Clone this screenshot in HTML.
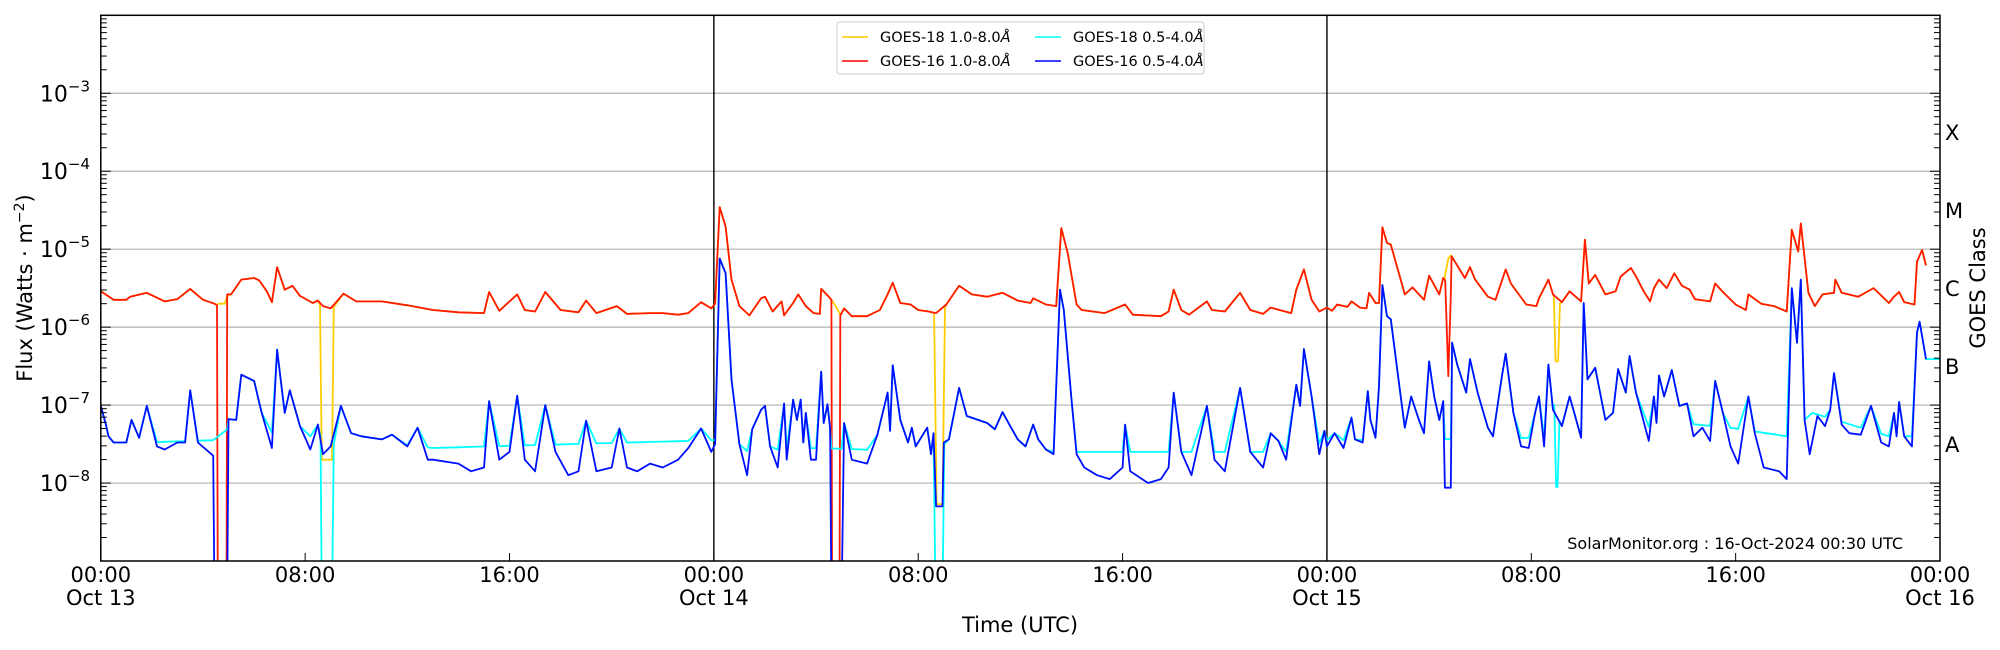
<!DOCTYPE html>
<html><head><meta charset="utf-8"><style>
html,body{margin:0;padding:0;background:#fff;}
svg{display:block;font-family:"DejaVu Sans","Liberation Sans",sans-serif;}
</style></head><body>
<svg id="chart" width="2000" height="650" viewBox="0 0 2000 650" xmlns="http://www.w3.org/2000/svg">
<defs><clipPath id="plotclip"><rect x="100.8" y="15.3" width="1839.2" height="545.7"/></clipPath></defs>
<rect width="2000" height="650" fill="#fff"/>
<g id="grid"></g>
<g id="series" clip-path="url(#plotclip)"></g>
<g id="axes"></g>
<g>
<rect x="837" y="22" width="367" height="52" rx="3" fill="#fff" fill-opacity="0.85" stroke="#ccc" stroke-width="1"/>
<g><line x1="842" y1="37" x2="868" y2="37" stroke="#ffcc00" stroke-width="1.6"/><text x="880" y="42" font-size="14.5">GOES-18 1.0-8.0<tspan font-style="italic">Å</tspan></text></g>
<g><line x1="842" y1="61" x2="868" y2="61" stroke="#ff0000" stroke-width="1.6"/><text x="880" y="66" font-size="14.5">GOES-16 1.0-8.0<tspan font-style="italic">Å</tspan></text></g>
<g><line x1="1035" y1="37" x2="1061" y2="37" stroke="#00ffff" stroke-width="1.6"/><text x="1073" y="42" font-size="14.5">GOES-18 0.5-4.0<tspan font-style="italic">Å</tspan></text></g>
<g><line x1="1035" y1="61" x2="1061" y2="61" stroke="#0000ff" stroke-width="1.6"/><text x="1073" y="66" font-size="14.5">GOES-16 0.5-4.0<tspan font-style="italic">Å</tspan></text></g>
</g>
<text x="1903" y="549" font-size="16" text-anchor="end">SolarMonitor.org : 16-Oct-2024 00:30 UTC</text>
<text x="1020" y="632" font-size="21" text-anchor="middle">Time (UTC)</text>
<text transform="translate(32,288) rotate(-90)" font-size="21" text-anchor="middle">Flux (Watts · m<tspan dy="-8" font-size="14">−2</tspan><tspan dy="8">)</tspan></text>
<text transform="translate(1985,288) rotate(-90)" font-size="21" text-anchor="middle">GOES Class</text>
</svg>
<script>
// GOES-16 1.0-8.0 A (log10 W/m^2), hours since Oct 13 00:00
const g16LongT=[0,0.5,1,1.15,1.8,2.5,3,3.5,4,4.45,4.55,4.58,4.92,4.95,5.1,5.5,6,6.2,6.5,6.7,6.9,7.2,7.5,7.8,8.3,8.5,8.7,9,9.5,10,11,12,13,14,15,15.2,15.6,16.3,16.6,17,17.4,18,18.7,19,19.4,20.2,20.6,21.5,22,22.6,23,23.5,23.9,24.05,24.23,24.46,24.69,25,25.39,25.85,26,26.3,26.65,26.75,27.1,27.3,27.6,27.9,28.15,28.2,28.5,28.6,28.63,28.92,28.95,29.1,29.4,30,30.5,30.8,31,31.3,31.7,32,32.4,32.7,33.1,33.6,34.1,34.7,35.3,35.9,36.4,36.5,37,37.4,37.6,37.85,38.2,38.4,39.3,40.1,40.4,41.5,41.8,42,42.3,42.6,43.3,43.5,44,44.6,45,45.5,45.8,46.6,46.8,47.1,47.4,47.7,48,48.2,48.4,48.8,48.96,49.3,49.55,49.65,49.9,50.04,50.17,50.35,50.5,51.05,51.35,51.8,52,52.4,52.55,52.63,52.75,52.85,52.88,53.1,53.4,53.6,53.8,54.3,54.6,55,55.2,55.8,56.2,56.3,56.67,56.85,57.2,57.5,57.95,58.1,58.25,58.5,58.9,59.3,59.5,59.9,60.1,60.4,60.65,60.8,61,61.3,61.6,61.9,62.2,62.4,63,63.2,63.5,64,64.4,64.5,65,65.5,66,66.2,66.45,66.55,66.85,67.1,67.4,67.85,67.9,68.15,68.8,69.4,70,70.2,70.4,70.6,71,71.1,71.3,71.45];
const g16LongV=[-5.54,-5.65,-5.65,-5.61,-5.56,-5.67,-5.64,-5.51,-5.65,-5.70,-5.72,-9.5,-9.5,-5.58,-5.58,-5.39,-5.37,-5.40,-5.54,-5.68,-5.23,-5.52,-5.47,-5.60,-5.69,-5.66,-5.73,-5.76,-5.57,-5.67,-5.67,-5.72,-5.78,-5.81,-5.82,-5.55,-5.79,-5.58,-5.78,-5.80,-5.55,-5.78,-5.81,-5.66,-5.82,-5.73,-5.83,-5.82,-5.82,-5.84,-5.82,-5.68,-5.76,-5.70,-4.46,-4.71,-5.39,-5.73,-5.85,-5.63,-5.61,-5.80,-5.67,-5.85,-5.69,-5.58,-5.73,-5.82,-5.83,-5.51,-5.61,-5.65,-9.5,-9.5,-5.85,-5.76,-5.86,-5.86,-5.78,-5.58,-5.43,-5.69,-5.71,-5.78,-5.80,-5.82,-5.71,-5.47,-5.58,-5.61,-5.56,-5.66,-5.69,-5.63,-5.71,-5.73,-4.73,-5.05,-5.71,-5.78,-5.82,-5.71,-5.84,-5.86,-5.80,-5.52,-5.78,-5.84,-5.67,-5.78,-5.80,-5.56,-5.78,-5.83,-5.75,-5.82,-5.52,-5.26,-5.65,-5.80,-5.75,-5.79,-5.71,-5.74,-5.67,-5.75,-5.76,-5.56,-5.69,-5.69,-4.72,-4.92,-4.94,-5.58,-5.49,-5.65,-5.34,-5.58,-5.37,-5.40,-6.63,-5.60,-5.09,-5.21,-5.37,-5.23,-5.39,-5.61,-5.65,-5.26,-5.44,-5.71,-5.73,-5.63,-5.39,-5.58,-5.68,-5.54,-5.67,-4.88,-5.44,-5.33,-5.58,-5.54,-5.35,-5.24,-5.35,-5.54,-5.67,-5.50,-5.39,-5.50,-5.31,-5.47,-5.52,-5.64,-5.67,-5.44,-5.55,-5.71,-5.78,-5.58,-5.70,-5.73,-5.80,-4.75,-5.03,-4.67,-5.56,-5.73,-5.58,-5.56,-5.39,-5.56,-5.61,-5.50,-5.69,-5.61,-5.55,-5.68,-5.71,-5.16,-5.01,-5.21];
// GOES-18 1.0-8.0 A: segments where it differs from GOES-16
const g18LongPatchT=[[4.55,4.6,4.85,4.95],[8.58,8.65,9.05,9.12],[28.6,28.75,28.92,28.95],[32.62,32.72,32.95,33.05],[52.6,52.75,52.86],[56.88,56.95,57.05,57.12]];
const g18LongPatchV=[[-5.72,-5.70,-5.70,-5.60],[-5.72,-7.7,-7.7,-5.74],[-5.65,-5.72,-5.82,-5.85],[-5.82,-8.27,-8.27,-5.75],[-5.38,-5.12,-5.08],[-5.60,-6.44,-6.44,-5.70]];
// GOES-16 0.5-4.0 A
const g16ShortT=[0,0.2,0.3,0.5,1,1.2,1.5,1.8,2.2,2.5,3,3.3,3.5,3.8,4.3,4.4,4.45,4.95,5,5.3,5.5,6,6.3,6.7,6.9,7.2,7.4,7.8,8.2,8.5,8.7,9,9.4,9.8,10.2,11,11.4,12,12.4,12.8,13,14,14.5,15,15.2,15.6,16,16.3,16.6,17,17.4,17.8,18.3,18.7,19,19.4,20,20.3,20.6,21,21.5,22,22.6,23,23.5,23.9,24.05,24.23,24.46,24.69,25,25.3,25.5,25.85,26,26.2,26.5,26.75,26.85,27.1,27.25,27.4,27.5,27.6,27.8,28,28.2,28.3,28.45,28.55,28.6,29,29.1,29.4,30,30.4,30.8,30.9,31,31.3,31.6,31.75,31.9,32.35,32.5,32.6,32.7,32.95,33,33.2,33.6,33.9,34.7,35,35.3,35.6,35.9,36.2,36.5,36.7,37,37.3,37.55,37.7,38,38.2,38.5,39,39.5,40,40.1,40.3,41,41.5,41.8,42,42.3,42.7,43.3,43.6,44,44.6,45,45.5,45.8,46.1,46.4,46.8,46.95,47.1,47.4,47.7,47.9,48,48.3,48.65,48.96,49.1,49.4,49.6,49.7,49.9,50.04,50.17,50.35,50.5,50.8,51.05,51.3,51.6,51.8,52,52.2,52.4,52.55,52.62,52.85,52.9,53.1,53.45,53.6,53.9,54.3,54.5,54.85,55,55.3,55.6,55.9,56.15,56.3,56.5,56.67,56.85,57.2,57.5,57.65,57.95,58.05,58.2,58.5,58.9,59.2,59.4,59.7,59.85,60.1,60.6,60.8,60.9,61,61.2,61.5,61.8,62.1,62.35,62.7,63,63.2,63.5,63.8,64.1,64.5,64.75,65.1,65.7,66,66.2,66.4,66.55,66.7,66.9,67.2,67.5,67.7,67.85,68.15,68.45,68.9,69.3,69.7,70,70.2,70.3,70.4,70.6,70.9,71.1,71.2,71.45];
const g16ShortV=[-7.01,-7.25,-7.40,-7.48,-7.48,-7.19,-7.42,-7.01,-7.53,-7.57,-7.48,-7.48,-6.81,-7.48,-7.62,-7.65,-9.5,-9.5,-7.18,-7.19,-6.61,-6.69,-7.10,-7.55,-6.29,-7.10,-6.81,-7.27,-7.57,-7.25,-7.63,-7.53,-7.01,-7.36,-7.40,-7.44,-7.38,-7.53,-7.29,-7.70,-7.7,-7.75,-7.85,-7.8,-6.95,-7.7,-7.6,-6.88,-7.7,-7.85,-7.0,-7.6,-7.9,-7.85,-7.2,-7.85,-7.8,-7.3,-7.8,-7.85,-7.75,-7.8,-7.7,-7.55,-7.3,-7.6,-7.5,-5.12,-5.31,-6.67,-7.5,-7.9,-7.31,-7.06,-7.01,-7.53,-7.8,-6.98,-7.7,-6.93,-7.19,-6.93,-7.48,-7.10,-7.7,-7.7,-6.57,-7.23,-6.99,-7.3,-9.5,-9.5,-7.23,-7.7,-7.75,-7.38,-6.84,-7.33,-6.49,-7.19,-7.48,-7.29,-7.53,-7.29,-7.63,-7.36,-8.3,-8.3,-7.48,-7.44,-6.78,-7.14,-7.23,-7.31,-7.09,-7.27,-7.44,-7.53,-7.25,-7.44,-7.57,-7.63,-5.52,-5.78,-6.93,-7.63,-7.8,-7.9,-7.95,-7.8,-7.25,-7.85,-8.0,-7.95,-7.8,-6.84,-7.6,-7.9,-7.01,-7.7,-7.85,-6.78,-7.6,-7.8,-7.36,-7.46,-7.7,-6.74,-7.01,-6.28,-6.89,-7.63,-7.33,-7.53,-7.36,-7.55,-7.16,-7.44,-7.48,-6.82,-7.19,-7.42,-6.76,-5.46,-5.86,-5.90,-6.67,-7.29,-6.89,-7.19,-7.36,-6.44,-6.89,-7.19,-6.95,-8.06,-8.06,-6.20,-6.48,-6.84,-6.41,-6.84,-7.29,-7.40,-6.63,-6.34,-7.10,-7.53,-7.55,-7.10,-6.89,-7.53,-6.48,-7.06,-7.27,-6.89,-7.06,-7.42,-5.69,-6.67,-6.52,-7.19,-7.10,-6.54,-6.84,-6.37,-6.84,-7.46,-6.89,-7.23,-6.62,-6.89,-6.55,-7.01,-6.98,-7.40,-7.29,-7.46,-6.69,-7.10,-7.53,-7.75,-6.89,-7.36,-7.8,-7.85,-7.95,-5.50,-6.20,-5.39,-7.19,-7.63,-7.14,-7.27,-7.06,-6.59,-7.25,-7.36,-7.38,-7.01,-7.48,-7.53,-7.10,-7.40,-6.96,-7.40,-7.53,-6.07,-5.93,-6.41];
// GOES-18 0.5-4.0 A: background floor (sits above GOES-16 at quiet times) and dropouts
const g18ShortFloorT=[0,4.4,5,13,24,24.7,28,32.6,38,47,48,50,60,61,64,66,67,70,72];
const g18ShortFloorV=[-7.5,-7.45,-7.3,-7.55,-7.45,-7.6,-7.55,-7.6,-7.6,-7.6,-7.45,-7.45,-7.4,-7.2,-7.3,-7.4,-7.1,-7.4,-7.4];
const g18ShortPatchT=[[8.6,8.65,9.05,9.12],[32.6,32.68,32.95,33.02],[56.9,56.97,57.03,57.1]];
const g18ShortPatchV=[[-7.4,-9.5,-9.5,-7.5],[-7.4,-9.5,-9.5,-7.5],[-7.0,-8.05,-8.05,-7.2]];
const xTickHours=[0,8,16,24,32,40,48,56,64,72];
const xTickLabels=["00:00","08:00","16:00","00:00","08:00","16:00","00:00","08:00","16:00","00:00"];
const xTickDays=["Oct 13","","","Oct 14","","","Oct 15","","","Oct 16"];
const yDecades=[-8,-7,-6,-5,-4,-3];
const classLetters=["A","B","C","M","X"];
const classLogs=[-7.5,-6.5,-5.5,-4.5,-3.5];

const NS="http://www.w3.org/2000/svg";
const L=100.8,R=1940,T=15.3,B=561,HMAX=72,YMIN=-9,YMAX=-2;
const xs=h=>L+h/HMAX*(R-L);
const ys=v=>B-(v-YMIN)/(YMAX-YMIN)*(B-T);
function mk(tag,attrs,parent){const e=document.createElementNS(NS,tag);for(const k in attrs)e.setAttribute(k,attrs[k]);parent.appendChild(e);return e;}
function interp(T,V,t){if(t<=T[0])return V[0];for(let i=1;i<T.length;i++){if(t<=T[i]){const f=(t-T[i-1])/(T[i]-T[i-1]);return V[i-1]+f*(V[i]-V[i-1]);}}return V[V.length-1];}
function applyPatches(T,V,PT,PV){let pts=[];for(let i=0;i<T.length;i++){let inside=false;for(const p of PT){if(T[i]>=p[0]&&T[i]<=p[p.length-1])inside=true;}if(!inside)pts.push([T[i],V[i]]);}PT.forEach((p,j)=>p.forEach((t,k)=>pts.push([t,PV[j][k]])));pts.sort((a,b)=>a[0]-b[0]);return pts;}
function pathD(pts){return pts.map((p,i)=>(i?"L":"M")+xs(p[0]).toFixed(1)+","+ys(p[1]).toFixed(1)).join("");}

const grid=document.getElementById("grid");
yDecades.forEach(d=>{const l=mk("line",{x1:L,x2:R,y1:ys(d),y2:ys(d),stroke:"#b0b0b0","stroke-width":1.2},grid);

});
[24,48].forEach(h=>{const l=mk("line",{x1:xs(h),x2:xs(h),y1:T,y2:B,stroke:"#000","stroke-width":1.4},grid);

});

const sg=document.getElementById("series");
const yellowPts=applyPatches(g16LongT,g16LongV,g18LongPatchT,g18LongPatchV);
const redPts=g16LongT.map((t,i)=>[t,g16LongV[i]]);
let cyT=Array.from(new Set(g16ShortT.concat(g18ShortFloorT))).sort((a,b)=>a-b);
let cyV=cyT.map(t=>Math.max(interp(g16ShortT,g16ShortV,t),interp(g18ShortFloorT,g18ShortFloorV,t)));
const cyanPts=applyPatches(cyT,cyV,g18ShortPatchT,g18ShortPatchV);
const bluePts=g16ShortT.map((t,i)=>[t,g16ShortV[i]]);
const p1=mk("path",{d:pathD(yellowPts),fill:"none",stroke:"#ffcc00","stroke-width":1.8,"stroke-linejoin":"round"},sg);


const p2=mk("path",{d:pathD(redPts),fill:"none",stroke:"#ff1a00","stroke-width":1.8,"stroke-linejoin":"round"},sg);


const p3=mk("path",{d:pathD(cyanPts),fill:"none",stroke:"#00ffff","stroke-width":1.8,"stroke-linejoin":"round"},sg);


const p4=mk("path",{d:pathD(bluePts),fill:"none",stroke:"#0010ff","stroke-width":1.8,"stroke-linejoin":"round"},sg);



const ax=document.getElementById("axes");
const frame=mk("rect",{x:L,y:T,width:R-L,height:B-T,fill:"none",stroke:"#000","stroke-width":1.5},ax);


for(let d=YMIN;d<YMAX;d++){for(let m=1;m<=9;m++){const v=d+Math.log10(m);const y=ys(v);const len=m===1?10:6;
if(m===1&&d===YMIN)continue;
mk("line",{x1:L,x2:L+len,y1:y,y2:y,stroke:"#000","stroke-width":1},ax);
mk("line",{x1:R,x2:R-len,y1:y,y2:y,stroke:"#000","stroke-width":1},ax);}}
yDecades.forEach(d=>{const t=mk("text",{x:90,y:ys(d)+8,"font-size":22,"text-anchor":"end"},ax);


t.innerHTML='10<tspan dy="-10" font-size="15">−'+(-d)+'</tspan>';});
classLetters.forEach((c,i)=>{const t=mk("text",{x:1945,y:ys(classLogs[i])+8,"font-size":21},ax);


t.textContent=c;});
xTickHours.forEach((h,i)=>{const x=xs(h);mk("line",{x1:x,x2:x,y1:B,y2:B-8,stroke:"#000","stroke-width":1},ax);
const t=mk("text",{x:x,y:582,"font-size":21,"text-anchor":"middle"},ax);


t.textContent=xTickLabels[i];
if(xTickDays[i]){const t2=mk("text",{x:x,y:605,"font-size":21,"text-anchor":"middle"},ax);


t2.textContent=xTickDays[i];}});
</script>
</body></html>
